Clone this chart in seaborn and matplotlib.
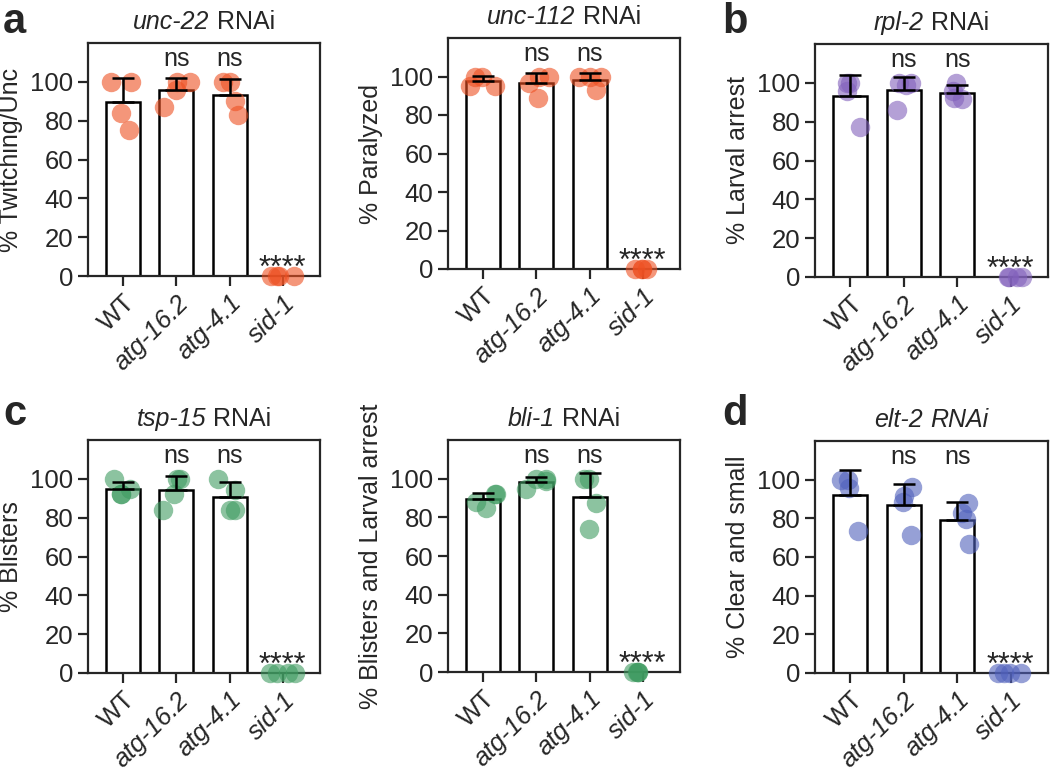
import numpy as np
import pandas as pd
import matplotlib
matplotlib.use("Agg")
import matplotlib.pyplot as plt
import seaborn as sns
from matplotlib.offsetbox import AnchoredOffsetbox, HPacker, TextArea

# strains on the x axis
strains = ["WT", "atg-16.2", "atg-4.1", "sid-1"]
sig_labels = ["", "ns", "ns", "****"]

# % phenotype, four replicates per strain
unc22 = [[100, 100, 84, 75], [100, 100, 96, 87], [100, 100, 90, 83], [0, 0, 0, 0]]
unc112 = [[100, 100, 95, 95], [100, 100, 96.6, 89], [100, 100, 100, 93], [0, 0, 0, 0]]
rpl2 = [[100, 100, 96, 77], [100, 100, 99, 86], [100, 96, 91.5, 92], [0, 0, 0, 0]]
tsp15 = [[100, 95, 92, 92], [100, 100, 92, 84], [100, 94.5, 84, 84], [0, 0, 0, 0]]
bli1 = [[85, 88, 92, 92], [100, 100, 99, 94.5], [100, 100, 87.5, 74], [0, 0, 0, 0]]
elt2 = [[100, 100, 95.7, 73.5], [96, 91.5, 88.5, 71.3], [88, 83, 79.5, 66.7], [0, 0, 0, 0]]

red = "#EE5022"
purple = "#8261BC"
green = "#3F9B61"
blue = "#5061BC"

sns.set_style("ticks")
plt.rcParams["font.family"] = ["Liberation Sans", "DejaVu Sans"]
plt.rcParams["axes.linewidth"] = 1.6
np.random.seed(7)

fig = plt.figure(figsize=(10.5, 7.73), dpi=100)


def panel(rect, values, color, gene, italic_all, ylabel):
    ax = fig.add_axes(rect)
    df = pd.DataFrame({"strain": np.repeat(strains, 4),
                       "pct": np.concatenate(values)})
    sns.barplot(data=df, x="strain", y="pct", order=strains, errorbar=None,
                color="white", edgecolor="black", linewidth=1.8, width=0.64,
                ax=ax)
    sns.stripplot(data=df, x="strain", y="pct", order=strains, color=color,
                  alpha=0.6, size=14, jitter=0.26, linewidth=0, ax=ax)
    for coll in ax.collections:
        coll.set_clip_on(False)

    # mean + SD, upper whisker only
    stats = df.groupby("strain", sort=False)["pct"].agg(["mean", "std"])
    pos = np.arange(len(strains))
    keep = stats["std"].values > 0
    ax.errorbar(pos[keep], stats["mean"].values[keep],
                yerr=[np.zeros(keep.sum()), stats["std"].values[keep]],
                fmt="none", ecolor="black", elinewidth=1.8, capsize=8,
                capthick=1.8, zorder=5)

    for i, lab in enumerate(sig_labels):
        if lab == "ns":
            ax.text(i, 108, lab, ha="center", va="baseline", fontsize=18)
        elif lab:
            ax.text(i, -0.5, lab, ha="center", va="baseline", fontsize=22)

    ax.set_ylim(0, 120)
    ax.set_xlim(-0.66, 3.7)
    ax.set_yticks(range(0, 101, 20))
    ax.set_xlabel("")
    ax.set_ylabel(ylabel, fontsize=18, labelpad=5)
    ax.tick_params(axis="both", direction="out", length=7, width=1.6,
                   labelsize=18.5, pad=3.5)
    ax.set_xticks(pos)
    ax.set_xticklabels(strains, rotation=45, ha="right",
                       rotation_mode="anchor", fontsize=18.5)
    for t in ax.get_xticklabels():
        t.set_fontstyle("normal" if t.get_text() == "WT" else "italic")
    for sp in ax.spines.values():
        sp.set_visible(True)
        sp.set_linewidth(1.6)

    rest_style = "italic" if italic_all else "normal"
    title = HPacker(children=[
        TextArea(gene, textprops=dict(fontsize=18, fontstyle="italic")),
        TextArea("RNAi", textprops=dict(fontsize=18, fontstyle=rest_style)),
    ], sep=5, pad=0, align="baseline")
    box = AnchoredOffsetbox(loc="lower center", child=title, pad=0,
                            borderpad=0, frameon=False,
                            bbox_to_anchor=(0.5, 1.04),
                            bbox_transform=ax.transAxes)
    ax.add_artist(box)
    return ax


W, H = 1050, 773


def rect(left, right, top, bottom):
    return [left / W, 1 - bottom / H, (right - left) / W, (bottom - top) / H]


panel(rect(88, 320, 43, 276), unc22, red, "unc-22", False, "% Twitching/Unc")
panel(rect(448, 680, 38, 269), unc112, red, "unc-112", False, "% Paralyzed")
panel(rect(815, 1048, 44, 277), rpl2, purple, "rpl-2", False, "% Larval arrest")
panel(rect(88, 320, 440, 673), tsp15, green, "tsp-15", False, "% Blisters")
panel(rect(448, 680, 440, 672), bli1, green, "bli-1", False,
      "% Blisters and Larval arrest")
panel(rect(815, 1048, 441, 673), elt2, blue, "elt-2", True, "% Clear and small")

for letter, x, y in [("a", 3, 33), ("b", 722, 33), ("c", 3, 425), ("d", 722, 425)]:
    fig.text(x / W, 1 - y / H, letter, fontsize=30, fontweight="bold",
             ha="left", va="baseline")

fig.savefig("out.png", dpi=100)
